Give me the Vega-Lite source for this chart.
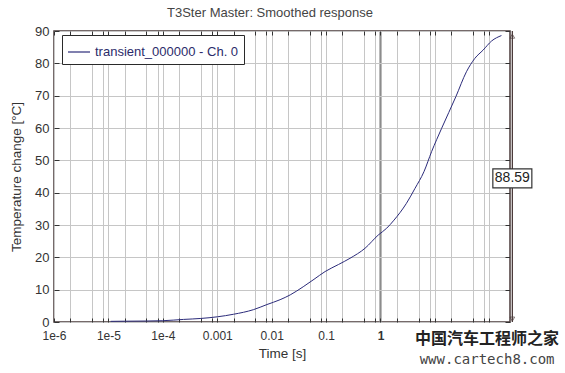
{
  "$schema": "https://vega.github.io/schema/vega-lite/v6.json",
  "width": 456,
  "height": 291,
  "autosize": {"type": "none"},
  "padding": {"left": 54, "top": 31, "right": 55, "bottom": 51},
  "background": "white",
  "title": {"text": "T3Ster Master: Smoothed response", "fontSize": 13, "fontWeight": "normal", "font": "Liberation Sans", "color": "#444444", "offset": 5, "dx": -12},
  "config": {
    "view": {"stroke": "#4a3a3a", "strokeWidth": 1.5},
    "axis": {"labelFont": "Liberation Sans", "titleFont": "Liberation Sans", "labelFontSize": 12, "titleFontSize": 13.5, "titleFontWeight": "normal", "labelColor": "#333333", "titleColor": "#333333", "tickColor": "#333333", "domain": false}
  },
  "datasets": {
    "curve": [
      {"t": 0.000011, "v": 0.2, "s": "transient_000000 - Ch. 0"},
      {"t": 0.00002, "v": 0.25, "s": "transient_000000 - Ch. 0"},
      {"t": 0.00005, "v": 0.3, "s": "transient_000000 - Ch. 0"},
      {"t": 0.0001, "v": 0.4, "s": "transient_000000 - Ch. 0"},
      {"t": 0.00024, "v": 0.8, "s": "transient_000000 - Ch. 0"},
      {"t": 0.0005, "v": 1.1, "s": "transient_000000 - Ch. 0"},
      {"t": 0.001, "v": 1.6, "s": "transient_000000 - Ch. 0"},
      {"t": 0.002, "v": 2.4, "s": "transient_000000 - Ch. 0"},
      {"t": 0.0046, "v": 3.8, "s": "transient_000000 - Ch. 0"},
      {"t": 0.0082, "v": 5.4, "s": "transient_000000 - Ch. 0"},
      {"t": 0.0143, "v": 6.9, "s": "transient_000000 - Ch. 0"},
      {"t": 0.022, "v": 8.4, "s": "transient_000000 - Ch. 0"},
      {"t": 0.038, "v": 10.9, "s": "transient_000000 - Ch. 0"},
      {"t": 0.06, "v": 13.2, "s": "transient_000000 - Ch. 0"},
      {"t": 0.096, "v": 15.6, "s": "transient_000000 - Ch. 0"},
      {"t": 0.17, "v": 17.8, "s": "transient_000000 - Ch. 0"},
      {"t": 0.275, "v": 19.7, "s": "transient_000000 - Ch. 0"},
      {"t": 0.52, "v": 22.8, "s": "transient_000000 - Ch. 0"},
      {"t": 0.91, "v": 26.9, "s": "transient_000000 - Ch. 0"},
      {"t": 1.3, "v": 29.0, "s": "transient_000000 - Ch. 0"},
      {"t": 1.77, "v": 31.5, "s": "transient_000000 - Ch. 0"},
      {"t": 3.0, "v": 36.7, "s": "transient_000000 - Ch. 0"},
      {"t": 4.3, "v": 41.3, "s": "transient_000000 - Ch. 0"},
      {"t": 6.3, "v": 46.5, "s": "transient_000000 - Ch. 0"},
      {"t": 8.7, "v": 52.7, "s": "transient_000000 - Ch. 0"},
      {"t": 13.3, "v": 59.9, "s": "transient_000000 - Ch. 0"},
      {"t": 24.3, "v": 69.7, "s": "transient_000000 - Ch. 0"},
      {"t": 38, "v": 77.4, "s": "transient_000000 - Ch. 0"},
      {"t": 54, "v": 81.5, "s": "transient_000000 - Ch. 0"},
      {"t": 77, "v": 84.1, "s": "transient_000000 - Ch. 0"},
      {"t": 110, "v": 86.9, "s": "transient_000000 - Ch. 0"},
      {"t": 167, "v": 88.59, "s": "transient_000000 - Ch. 0"}
    ],
    "cursor": [{"t": 265, "v0": 0, "v1": 90, "label": "88.59", "mid": 44.4, "top": 88.4, "bottom": 0.9}],
    "watermark": [
      {"t": 91, "v": -5.4, "w": "中国汽车工程师之家", "kind": "cn"},
      {"t": 91, "v": -11.8, "w": "www.cartech8.com", "kind": "url"}
    ]
  },
  "resolve": {"axis": {"x": "independent", "y": "independent"}},
  "layer": [
    {
      "data": {"name": "curve"},
      "mark": {"type": "line", "strokeWidth": 1, "interpolate": "monotone"},
      "encoding": {
        "x": {
          "field": "t", "type": "quantitative",
          "scale": {"type": "log", "domain": [0.000001, 240], "nice": false},
          "axis": {
            "orient": "bottom",
            "values": [0.000001, 0.000002, 0.000005, 0.000008, 0.00001, 0.00002, 0.00005, 0.00008, 0.0001, 0.0002, 0.0005, 0.0008, 0.001, 0.002, 0.005, 0.008, 0.01, 0.02, 0.05, 0.08, 0.1, 0.2, 0.5, 0.8, 1, 2, 5, 8, 10, 20, 50, 80, 100],
            "grid": true,
            "gridColor": {"condition": {"test": "datum.value == 1", "value": "#8c8c8c"}, "value": "#c6c6c6"},
            "gridWidth": {"condition": {"test": "datum.value == 1", "value": 2.2}, "value": 1},
            "ticks": true, "tickSize": -4,
            "labelExpr": "(abs(log(datum.value)/LN10 - round(log(datum.value)/LN10)) > 0.01 || datum.value > 2) ? '' : (datum.value < 0.0005 ? '1e' + round(log(datum.value)/LN10) : format(datum.value, '~g'))",
            "labelOverlap": false, "labelFlush": false, "labelBound": false,
            "labelPadding": 12,
            "labelFontWeight": {"condition": {"test": "datum.value == 1", "value": "bold"}, "value": "normal"},
            "title": "Time [s]", "titlePadding": 5
          }
        },
        "y": {
          "field": "v", "type": "quantitative",
          "scale": {"domain": [0, 90], "nice": false},
          "axis": {
            "orient": "left",
            "values": [0, 10, 20, 30, 40, 50, 60, 70, 80, 90],
            "grid": true, "gridColor": "#c6c6c6", "gridWidth": 1,
            "ticks": true, "tickSize": -5,
            "labelPadding": 10, "labelFontSize": 13,
            "title": "Temperature change [°C]", "titlePadding": 11
          }
        },
        "color": {
          "field": "s", "type": "nominal",
          "scale": {"range": ["#2b2b7a"]},
          "legend": {
            "orient": "none", "legendX": 8, "legendY": 4, "title": null,
            "strokeColor": "#2a2a2a", "fillColor": "white", "padding": 5,
            "symbolType": "stroke", "symbolSize": 484, "symbolStrokeWidth": 1.2,
            "labelFontSize": 13, "labelColor": "#2b2b6a", "labelFont": "Liberation Sans"
          }
        }
      }
    },
    {
      "data": {"name": "cursor"},
      "mark": {"type": "rule", "color": "#4a3a3a", "strokeWidth": 1.3},
      "encoding": {
        "x": {
          "field": "t", "type": "quantitative",
          "scale": {"type": "log", "domain": [0.000001, 240], "nice": false},
          "axis": {
            "orient": "top",
            "values": [0.000001, 0.000002, 0.000005, 0.000008, 0.00001, 0.00002, 0.00005, 0.00008, 0.0001, 0.0002, 0.0005, 0.0008, 0.001, 0.002, 0.005, 0.008, 0.01, 0.02, 0.05, 0.08, 0.1, 0.2, 0.5, 0.8, 1, 2, 5, 8, 10, 20, 50, 80, 100],
            "grid": false, "labels": false, "ticks": true, "tickSize": -4, "title": null
          }
        },
        "y": {
          "field": "v0", "type": "quantitative",
          "scale": {"domain": [0, 90], "nice": false},
          "axis": {
            "orient": "right",
            "values": [0, 10, 20, 30, 40, 50, 60, 70, 80, 90],
            "grid": false, "labels": false, "ticks": true, "tickSize": -5, "title": null
          }
        },
        "y2": {"field": "v1"}
      }
    },
    {
      "data": {"name": "cursor"},
      "mark": {"type": "point", "shape": "triangle-up", "size": 22, "filled": false, "color": "#4a3a3a", "strokeWidth": 1},
      "encoding": {
        "x": {"field": "t", "type": "quantitative", "scale": {"type": "log", "domain": [0.000001, 240], "nice": false}, "axis": null},
        "y": {"field": "top", "type": "quantitative", "scale": {"domain": [0, 90], "nice": false}, "axis": null}
      }
    },
    {
      "data": {"name": "cursor"},
      "mark": {"type": "point", "shape": "triangle-down", "size": 22, "filled": false, "color": "#4a3a3a", "strokeWidth": 1},
      "encoding": {
        "x": {"field": "t", "type": "quantitative", "scale": {"type": "log", "domain": [0.000001, 240], "nice": false}, "axis": null},
        "y": {"field": "bottom", "type": "quantitative", "scale": {"domain": [0, 90], "nice": false}, "axis": null}
      }
    },
    {
      "data": {"name": "cursor"},
      "mark": {"type": "point", "shape": "M-0.975,-0.475H0.975V0.475H-0.975Z", "size": 1600, "filled": true, "fill": "white", "stroke": "#333333", "strokeWidth": 1.2, "opacity": 1},
      "encoding": {
        "x": {"field": "t", "type": "quantitative", "scale": {"type": "log", "domain": [0.000001, 240], "nice": false}, "axis": null},
        "y": {"field": "mid", "type": "quantitative", "scale": {"domain": [0, 90], "nice": false}, "axis": null}
      }
    },
    {
      "data": {"name": "cursor"},
      "mark": {"type": "text", "fontSize": 14, "font": "Liberation Sans", "color": "#222222", "align": "center", "baseline": "middle"},
      "encoding": {
        "x": {"field": "t", "type": "quantitative", "scale": {"type": "log", "domain": [0.000001, 240], "nice": false}, "axis": null},
        "y": {"field": "mid", "type": "quantitative", "scale": {"domain": [0, 90], "nice": false}, "axis": null},
        "text": {"field": "label"}
      }
    },
    {
      "data": {"name": "watermark"},
      "transform": [{"filter": "datum.kind == 'cn'"}],
      "mark": {"type": "text", "fontSize": 16, "font": "Noto Sans CJK SC", "fontWeight": "bold", "color": "#222222", "align": "center", "baseline": "middle"},
      "encoding": {
        "x": {"field": "t", "type": "quantitative", "scale": {"type": "log", "domain": [0.000001, 240], "nice": false}, "axis": null},
        "y": {"field": "v", "type": "quantitative", "scale": {"domain": [0, 90], "nice": false}, "axis": null},
        "text": {"field": "w"}
      }
    },
    {
      "data": {"name": "watermark"},
      "transform": [{"filter": "datum.kind == 'url'"}],
      "mark": {"type": "text", "fontSize": 14, "font": "DejaVu Sans Mono", "color": "#444444", "align": "center", "baseline": "middle"},
      "encoding": {
        "x": {"field": "t", "type": "quantitative", "scale": {"type": "log", "domain": [0.000001, 240], "nice": false}, "axis": null},
        "y": {"field": "v", "type": "quantitative", "scale": {"domain": [0, 90], "nice": false}, "axis": null},
        "text": {"field": "w"}
      }
    }
  ]
}
